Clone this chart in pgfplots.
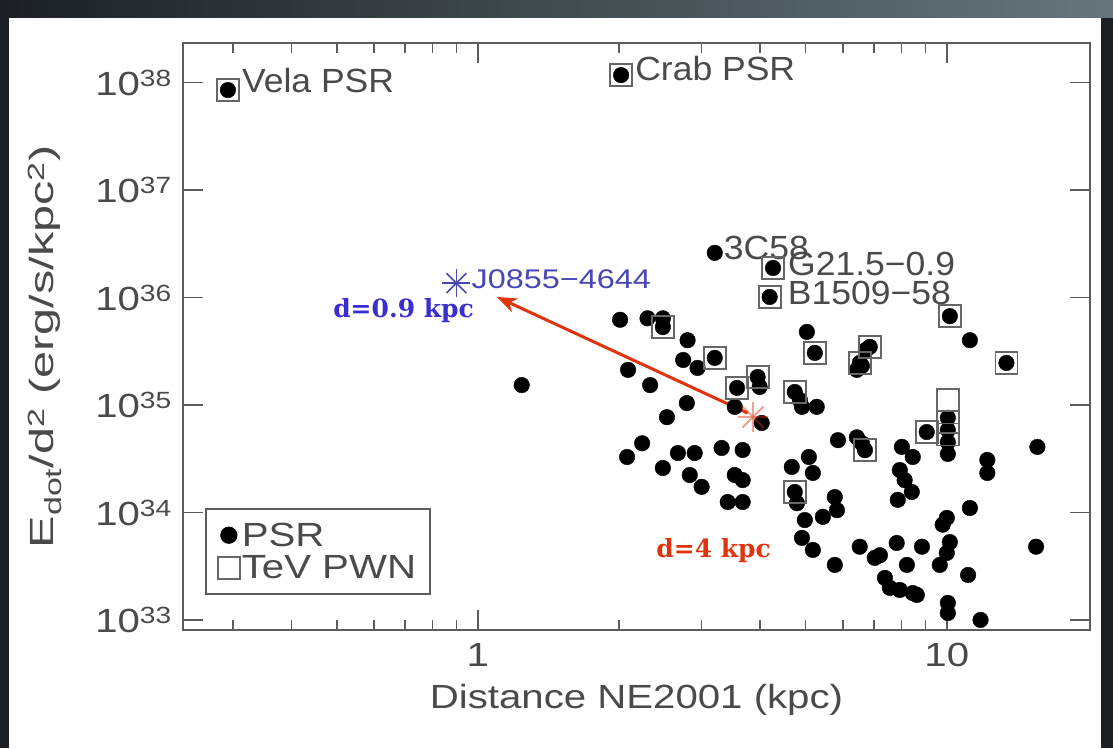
\documentclass[border=0pt]{standalone}
\usepackage{pgfplots}
\pgfplotsset{compat=1.18}
\usepackage{pgfplotstable}
\usepackage{fontspec}
\setmainfont{Liberation Sans}[FakeStretch=1.2]
\newfontfamily\widefont{Liberation Sans}[FakeStretch=1.45]
\newfontfamily\namefont{Liberation Sans}[FakeStretch=1.06]
\newfontfamily\slabfont{DejaVu Serif}
\usetikzlibrary{arrows.meta}

\definecolor{inkgray}{HTML}{4A4A4A}
\definecolor{axgray}{HTML}{5C5C5C}
\definecolor{boxgray}{HTML}{666666}
\definecolor{annblue}{HTML}{3A2ED2}
\definecolor{annred}{HTML}{E2330F}
\definecolor{srcblue}{HTML}{4848B4}
\definecolor{framedark}{HTML}{1C2024}
\definecolor{framelight}{HTML}{66767C}

\newcommand\labfont{\fontsize{33.5}{40}\selectfont}
\newcommand\srcfont{\fontsize{27}{32}\selectfont}
\newcommand\annfont{\slabfont\bfseries\fontsize{25}{30}\selectfont}

% pulsars: distance (kpc), spin-down power over distance squared (erg/s/kpc^2)
\pgfplotstableread{
d E
0.293 8.5e37
2.02 1.17e38
3.20 2.6e36
4.26 1.88e36
4.19 1.01e36
10.15 6.7e35
11.2 4.0e35
13.4 2.46e35
10.05 7.6e34
10.05 5.85e34
10.05 4.5e34
10.05 3.5e34
9.06 5.6e34
15.6 4.07e34
5.03 4.78e35
5.23 3.05e35
6.85 3.47e35
6.72 3.25e35
6.52 2.46e35
6.59 2.31e35
6.43 2.12e35
4.74 1.32e35
4.86 1.11e35
4.91 9.6e34
5.28 9.6e34
5.86 4.7e34
6.43 5.0e34
6.59 4.4e34
6.69 3.8e34
8.02 4.07e34
8.46 3.28e34
7.94 2.48e34
8.13 2.0e34
8.42 1.55e34
7.86 1.31e34
12.2 3.08e34
12.2 2.33e34
5.08 3.28e34
4.67 2.65e34
5.18 2.33e34
4.74 1.55e34
4.79 1.22e34
5.77 1.39e34
5.83 1.05e34
4.98 8.5e33
5.44 9.1e33
10.0 8.9e33
9.80 7.7e33
11.2 1.10e34
4.91 5.8e33
5.18 4.48e33
6.52 4.8e33
7.02 3.78e33
7.20 4.0e33
7.82 5.2e33
8.85 4.8e33
10.15 5.3e33
10.0 4.2e33
9.66 3.25e33
5.77 3.25e33
8.22 3.25e33
11.1 2.62e33
7.38 2.46e33
7.56 1.99e33
7.94 1.90e33
8.46 1.78e33
8.63 1.71e33
10.05 1.44e33
10.05 1.16e33
11.8 1.0e33
15.5 4.8e33
1.24 1.53e35
2.01 6.2e35
2.30 6.4e35
2.48 6.4e35
2.48 5.3e35
2.80 4.0e35
3.20 2.74e35
2.74 2.62e35
2.94 2.21e35
2.09 2.12e35
2.33 1.53e35
2.79 1.04e35
2.53 7.7e34
3.57 1.44e35
3.95 1.82e35
3.99 1.47e35
3.53 9.6e34
4.03 6.8e34
2.24 4.4e34
2.08 3.28e34
2.67 3.57e34
2.90 3.57e34
3.31 3.98e34
3.67 3.81e34
2.48 2.59e34
2.83 2.23e34
3.00 1.73e34
3.53 2.23e34
3.67 2.0e34
3.41 1.25e34
3.67 1.25e34
}\psrtable

% pulsars with a TeV pulsar wind nebula
\pgfplotstableread{
d E
0.293 8.5e37
2.02 1.17e38
4.26 1.88e36
4.19 1.01e36
10.15 6.7e35
13.4 2.46e35
10.05 1.11e35
10.05 6.9e34
10.05 5.3e34
9.06 5.6e34
5.23 3.05e35
6.85 3.47e35
6.52 2.46e35
4.74 1.32e35
6.69 3.8e34
4.74 1.55e34
3.20 2.74e35
2.48 5.3e35
3.57 1.44e35
3.95 1.82e35
}\pwntable

\begin{document}
\begin{tikzpicture}[x=1pt,y=1pt]
% slide background
\fill[framedark] (0,0) rectangle (1113,748);
\shade[left color=framedark, right color=framelight] (0,730) rectangle (1113,748);
\fill[white] (9,0) rectangle (1101,730);
\begin{axis}[
  at={(183pt,118pt)}, anchor=south west,
  scale only axis, width=907pt, height=587pt,
  xmode=log, ymode=log,
  xmin=0.235, xmax=20.2, ymin=8.07e32, ymax=2.33e38,
  axis line style={axgray, line width=2pt},
  tick align=inside,
  major tick length=20pt, minor tick length=10pt,
  tick style={axgray, line width=1.6pt},
  xtick={1,10}, xticklabels={1,10},
  minor xtick={0.3,0.4,0.5,0.6,0.7,0.8,0.9,2,3,4,5,6,7,8,9},
  ytick={1e33,1e34,1e35,1e36,1e37,1e38},
  yticklabels={10\textsuperscript{33},10\textsuperscript{34},10\textsuperscript{35},10\textsuperscript{36},10\textsuperscript{37},10\textsuperscript{38}},
  yminorticks=false,
  tick label style={font=\labfont, text=inkgray},
  xticklabel style={anchor=base, yshift=-37pt, inner sep=0pt},
  yticklabel style={anchor=base east, xshift=-11pt, yshift=-13pt, inner sep=0pt},
  xlabel={Distance NE2001 (kpc)},
  xlabel style={font=\labfont, text=inkgray, at={(axis description cs:0.5,0)}, anchor=base, yshift=-79pt, inner sep=0pt},
  ylabel={E\textsubscript{dot}/d\textsuperscript{2} (erg/s/kpc\textsuperscript{2})},
  ylabel style={font=\widefont\labfont, text=inkgray, at={(axis description cs:-0.1522,0.482)}, anchor=center, inner sep=0pt},
  clip=false,
  legend style={at={(0.0243,0.2078)}, anchor=north west, draw=axgray, line width=1.6pt,
    fill=white, font=\labfont, text=inkgray, inner xsep=12pt, inner ysep=12pt,
    row sep=4pt, cells={anchor=west}},
  legend image code/.code={\draw[mark repeat=2,mark phase=2,#1] plot coordinates {(0pt,0pt)(12pt,0pt)(24pt,0pt)};},
]
\addplot[only marks, mark=*, mark size=7.8pt, black] table[x=d,y=E]{\psrtable};
\addlegendentry{PSR}
\addplot[only marks, mark=square, mark size=11pt, boxgray, mark options={line width=1.8pt}] table[x=d,y=E]{\pwntable};
\addlegendentry{TeV PWN}

% J0855-4644 at the near distance
\addplot[only marks, mark=+, mark size=14pt, srcblue, mark options={line width=1.6pt}, forget plot] coordinates {(0.90,1.36e36)};
\addplot[only marks, mark=x, mark size=14pt, srcblue, mark options={line width=1.6pt}, forget plot] coordinates {(0.90,1.36e36)};
% the same source placed at the far distance
\addplot[only marks, mark=+, mark size=15pt, annred, opacity=0.45, mark options={line width=2pt}, forget plot] coordinates {(3.86,7.73e34)};
\addplot[only marks, mark=x, mark size=15pt, annred, opacity=0.45, mark options={line width=2pt}, forget plot] coordinates {(3.86,7.73e34)};

\draw[annred, line width=3pt, -{Stealth[length=20pt,width=15pt]}] (axis cs:3.76,8.4e34) -- (axis cs:1.098,1.01e36);

\node[anchor=base west, font=\namefont\labfont, text=inkgray, inner sep=0pt, xshift=14pt, yshift=-2pt] at (axis cs:0.293,8.5e37) {Vela PSR};
\node[anchor=base west, font=\namefont\labfont, text=inkgray, inner sep=0pt, xshift=14pt, yshift=-5pt] at (axis cs:2.02,1.17e38) {Crab PSR};
\node[anchor=base west, font=\namefont\labfont, text=inkgray, inner sep=0pt, xshift=9pt, yshift=-7pt] at (axis cs:3.20,2.6e36) {3C58};
\node[anchor=base west, font=\namefont\labfont, text=inkgray, inner sep=0pt, xshift=15pt, yshift=-8pt] at (axis cs:4.26,1.88e36) {G21.5−0.9};
\node[anchor=base west, font=\namefont\labfont, text=inkgray, inner sep=0pt, xshift=18pt, yshift=-8pt] at (axis cs:4.19,1.01e36) {B1509−58};
\node[anchor=base west, font=\srcfont, text=srcblue, inner sep=0pt, xshift=15pt, yshift=-5pt] at (axis cs:0.90,1.36e36) {J0855−4644};
\node[anchor=base west, font=\annfont, text=annblue, inner sep=0pt] at (axis cs:0.491,6.44e35) {d=0.9 kpc};
\node[anchor=base west, font=\annfont, text=annred, inner sep=0pt] at (axis cs:2.40,3.78e33) {d=4 kpc};
\end{axis}
\end{tikzpicture}
\end{document}
